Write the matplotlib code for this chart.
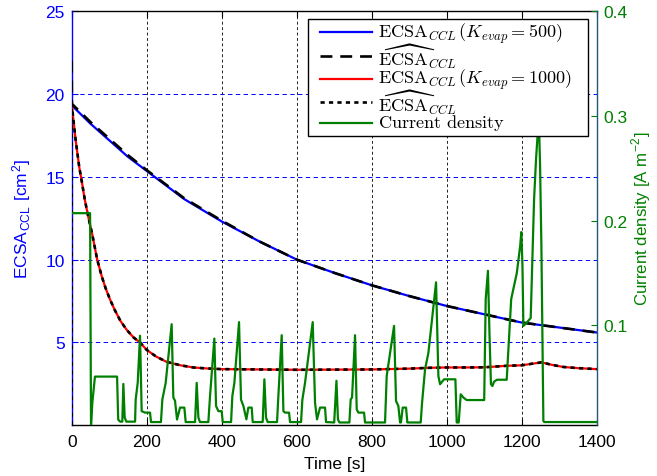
import matplotlib
matplotlib.use("Agg")
import matplotlib.pyplot as plt
from matplotlib.lines import Line2D
from matplotlib.patches import Rectangle
import numpy as np

plt.rcParams['font.family'] = ['Liberation Sans', 'DejaVu Sans']
plt.rcParams['mathtext.fontset'] = 'cm'

# ---- data ----
t_k500 = [0, 0.5, 50, 100, 150, 200, 300, 400, 500, 600, 700, 800, 900, 1000, 1100, 1200, 1300, 1400]
ecsa_k500 = [25.0, 19.3, 18.2, 17.2, 16.2, 15.35, 13.65, 12.3, 11.1, 10.0, 9.2, 8.45, 7.8, 7.2, 6.7, 6.2, 5.9, 5.6]
t_k500_hat = [0, 0.5, 50, 100, 150, 200, 300, 400, 500, 600, 700, 800, 900, 1000, 1100, 1200, 1300, 1400]
ecsa_k500_hat = [22.0, 19.4, 18.3, 17.3, 16.3, 15.4, 13.7, 12.35, 11.1, 10.0, 9.2, 8.45, 7.8, 7.2, 6.7, 6.2, 5.9, 5.6]

t_k1000 = [0, 10, 20, 27, 35, 45, 55, 68, 80, 90, 102, 115, 130, 147, 165, 182, 200, 225, 253,
           290, 324, 360, 400, 500, 600, 700, 800, 900, 955, 1000, 1053, 1100, 1160, 1200, 1253,
           1280, 1311, 1350, 1400]
ecsa_k1000 = [19.4, 17.3, 15.6, 14.7, 13.6, 12.5, 11.5, 10.0, 9.0, 8.3, 7.6, 6.95, 6.3, 5.75, 5.3,
              5.0, 4.55, 4.15, 3.83, 3.62, 3.49, 3.43, 3.39, 3.37, 3.35, 3.36, 3.37, 3.42, 3.47, 3.49,
              3.49, 3.5, 3.59, 3.62, 3.8, 3.65, 3.52, 3.45, 3.39]
t_k1000_hat = [0] + t_k1000
ecsa_k1000_hat = [0.0] + ecsa_k1000

t_cur = [0, 49, 51.5, 55, 62, 121, 124, 129,
         135, 137.7, 141.3, 145.7,
         169, 170.6, 176, 182.2, 186.6, 195.5, 208.9, 211.5,
         238, 241.7, 250.6, 266.6, 271, 275.5, 280.9, 288.9, 300.4, 304,
         329, 333.3, 337.8, 342.2,
         364.4, 368.9, 380.4, 384.9, 391.1, 400, 402.7,
         425, 428.4, 433.8, 446.2, 451.5, 457.8, 465.8, 471.1, 480, 482.7,
         509.3, 513.8, 518.2, 522.7,
         547.6, 551.1, 560, 564.5, 568.9, 579.6, 582.2,
         611.6, 615.1, 622.2, 642.7, 648.9, 654.2, 662.2, 675.6, 678.2,
         700, 706, 710, 714,
         740.5, 744, 747.6, 755.6, 760, 764.5, 779.6, 782.2,
         835.6, 840, 849, 859.6, 864.9, 871.1, 875.6, 878, 882.7, 891.6, 895.1,
         930.7, 934.3, 942.3, 951.2, 971.6, 977.8, 982.3, 992.9, 1023.2, 1026.7, 1032,
         1037.4, 1044.5, 1053.4, 1100, 1104, 1110, 1114, 1118, 1122, 1126, 1134, 1160,
         1167, 1172, 1187, 1196, 1199, 1202, 1204.5, 1213.4, 1224, 1228, 1233, 1238.3,
         1242.7, 1246.3, 1249, 1252.5, 1257.8, 1260, 1400]
cur = [0.207, 0.207, 0.004, 0.026, 0.051, 0.051, 0.010, 0.008,
       0.008, 0.044, 0.012, 0.008,
       0.008, 0.029, 0.045, 0.090, 0.018, 0.0166, 0.0166, 0.0076,
       0.0076, 0.029, 0.045, 0.101, 0.031, 0.028, 0.010, 0.0214, 0.0214, 0.0076,
       0.0076, 0.045, 0.0118, 0.0076,
       0.0076, 0.0325, 0.0873, 0.023, 0.018, 0.018, 0.0076,
       0.0076, 0.0325, 0.045, 0.103, 0.029, 0.023, 0.0102, 0.0214, 0.0214, 0.0076,
       0.0076, 0.0484, 0.0118, 0.0076,
       0.0076, 0.0325, 0.0905, 0.018, 0.0166, 0.0166, 0.0076,
       0.0076, 0.029, 0.045, 0.103, 0.026, 0.0102, 0.0214, 0.0214, 0.0076,
       0.0072, 0.047, 0.010, 0.0072,
       0.0072, 0.0293, 0.031, 0.0905, 0.0197, 0.0166, 0.0166, 0.0072,
       0.0072, 0.0516, 0.0737, 0.0994, 0.0277, 0.0229, 0.0072, 0.0072, 0.0214, 0.0214, 0.0072,
       0.0072, 0.026, 0.058, 0.0737, 0.141, 0.0516, 0.0437, 0.0484, 0.0484, 0.0072, 0.0072,
       0.0341, 0.031, 0.0286, 0.0286, 0.125, 0.152, 0.093, 0.0437, 0.042, 0.046, 0.048, 0.048,
       0.093, 0.125, 0.150, 0.176, 0.189, 0.157, 0.0994, 0.1025, 0.107, 0.157, 0.220, 0.259,
       0.283, 0.290, 0.252, 0.176, 0.0086, 0.0076, 0.0076]

x_ticks = [0, 200, 400, 600, 800, 1000, 1200, 1400]
y_left_ticks = [5, 10, 15, 20, 25]
y_right_ticks = [0.1, 0.2, 0.3, 0.4]
legend_labels = [r'$\mathrm{ECSA}_{CCL}\,(K_{evap}=500)$',
                 r'$\widehat{\mathrm{ECSA}}_{CCL}$',
                 r'$\mathrm{ECSA}_{CCL}\,(K_{evap}=1000)$',
                 r'$\widehat{\mathrm{ECSA}}_{CCL}$',
                 r'$\mathrm{Current\ density}$']

BLUE = (0, 0, 1)
RED = (1, 0, 0)
GREEN = (0, 0.5, 0)

W, H = 657, 477
fig = plt.figure(figsize=(W / 100, H / 100), dpi=100)
ax = fig.add_axes([71.7 / W, 50.7 / H, 525 / W, 414.3 / H])
ax2 = ax.twinx()

styles = [dict(color=BLUE, lw=1.6),
          dict(color='k', lw=1.9, dashes=(4.5, 3)),
          dict(color=RED, lw=1.6),
          dict(color='k', lw=1.9, dashes=(1.6, 1.6)),
          dict(color=GREEN, lw=1.6)]

ax.plot(t_k500, ecsa_k500, zorder=3, **styles[0])
ax.plot(t_k500_hat, ecsa_k500_hat, zorder=4, **styles[1])
ax.plot(t_k1000, ecsa_k1000, zorder=3, **styles[2])
ax.plot(t_k1000_hat, ecsa_k1000_hat, zorder=4, **styles[3])
ax2.plot(t_cur, cur, zorder=3, **styles[4])

ax.set_xlim(0, 1400)
ax.set_ylim(0, 25)
ax2.set_ylim(0.0045, 0.4)

ax.set_xticks(x_ticks)
ax.set_yticks(y_left_ticks)
ax2.set_yticks(y_right_ticks)
ax2.set_yticklabels(['0.1', '0.2', '0.3', '0.4'])

# grids
for xv in x_ticks[1:-1]:
    ax.axvline(xv, color='k', lw=0.6, dashes=(3.5, 3), zorder=1)
for yv in y_left_ticks[:-1]:
    ax.axhline(yv, color=BLUE, lw=0.7, dashes=(4.5, 3.5), zorder=1)

ts = 12.5
ax.tick_params(axis='x', direction='in', length=4, top=True, labelsize=ts, colors='k', pad=6)
ax.tick_params(axis='y', direction='in', length=4, right=False, labelsize=ts, colors=BLUE, pad=5)
ax2.tick_params(axis='y', direction='in', length=4, labelsize=ts, colors=GREEN, pad=5)

ax.spines['left'].set_color(BLUE)
ax.spines['right'].set_visible(False)
ax.spines['top'].set_color('k')
ax.spines['bottom'].set_color('k')
for s in ['left', 'top', 'bottom']:
    ax2.spines[s].set_visible(False)
ax2.spines['right'].set_color('#1f5a78')
for sp in list(ax.spines.values()) + list(ax2.spines.values()):
    sp.set_linewidth(1.0)

ax.set_xlabel('Time [s]', fontsize=ts, labelpad=5)
ax.set_ylabel(r'ECSA$_\mathregular{CCL}$ [cm$^\mathregular{2}$]', fontsize=ts, color=BLUE, labelpad=8)
ax2.set_ylabel(r'Current density [A m$^\mathregular{-2}$]', fontsize=12.2, color=GREEN, labelpad=2)

# legend box (drawn in figure pixel coordinates so that rows are evenly spaced)
def fx(px):
    return px / W

def fy(py):
    return 1 - py / H

frame = Rectangle((fx(308), fy(137)), fx(588) - fx(308), fy(20) - fy(137),
                  transform=fig.transFigure, facecolor='white', edgecolor='k',
                  lw=1.0, zorder=5)
fig.add_artist(frame)
row_line_y = [33.3, 56.7, 79.5, 103.0, 123.5]
row_text_y = [37.5, 65.5, 84.3, 111.5, 128.3]
for i in range(5):
    ln = Line2D([fx(320), fx(371.7)], [fy(row_line_y[i])] * 2,
                transform=fig.transFigure, zorder=6, **styles[i])
    fig.add_artist(ln)
    fig.text(fx(378), fy(row_text_y[i]), legend_labels[i], fontsize=13.1,
             ha='left', va='baseline', zorder=7)

fig.savefig('out.png', dpi=100)
